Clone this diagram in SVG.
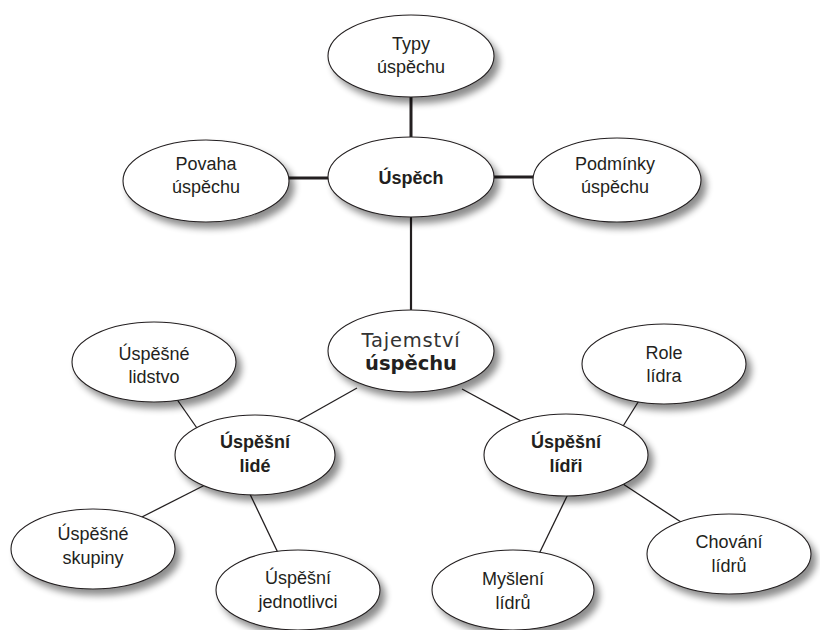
<svg xmlns="http://www.w3.org/2000/svg" width="820" height="630" viewBox="0 0 820 630">
<defs>
<filter id="sh" x="-20%" y="-20%" width="150%" height="160%">
<feGaussianBlur in="SourceAlpha" stdDeviation="3.5"/>
<feOffset dx="5" dy="6" result="b"/>
<feComponentTransfer><feFuncA type="linear" slope="0.45"/></feComponentTransfer>
<feMerge><feMergeNode/><feMergeNode in="SourceGraphic"/></feMerge>
</filter>
</defs>
<style>
.n ellipse{fill:#fff;stroke:#231f20;stroke-width:1.1;filter:url(#sh)}
.n text{font-family:"Liberation Sans",Arial,sans-serif;font-size:18px;fill:#231f20;text-anchor:middle}
.n text.b{font-weight:bold}
.n text.v{font-family:"DejaVu Sans",Verdana,sans-serif;font-size:19.5px;letter-spacing:0.8px;fill:#333}
.n text.vb{font-family:"DejaVu Sans",Verdana,sans-serif;font-size:19.5px;font-weight:bold}
.c line{stroke:#231f20;stroke-width:1.3}
.c line.t{stroke-width:3}
.c line.m{stroke-width:2.2}
</style>
<rect width="820" height="630" fill="#fff"/>
<g class="c">
<line class="t" x1="411" y1="90" x2="411" y2="145"/>
<line class="t" x1="285" y1="178" x2="332" y2="178"/>
<line class="t" x1="490" y1="177" x2="537" y2="177"/>
<line class="m" x1="411" y1="210" x2="411" y2="315"/>
<line x1="357" y1="388" x2="277" y2="433"/>
<line x1="462" y1="389" x2="545" y2="434"/>
<line x1="176" y1="398" x2="199" y2="431"/>
<line x1="640" y1="399" x2="620" y2="431"/>
<line x1="205" y1="485" x2="136" y2="520"/>
<line x1="248" y1="490" x2="280" y2="557"/>
<line x1="570" y1="490" x2="538" y2="556"/>
<line x1="620" y1="482" x2="684" y2="524"/>
</g>
<g id="typy" class="n"><ellipse cx="411" cy="56" rx="83" ry="41"/><text x="411" y="50">Typy</text><text x="411" y="73">úspěchu</text></g>
<g id="uspech" class="n"><ellipse cx="411" cy="177" rx="83" ry="40"/><text class="b" x="411" y="184">Úspěch</text></g>
<g id="povaha" class="n"><ellipse cx="206" cy="181" rx="83" ry="41"/><text x="206" y="170">Povaha</text><text x="206" y="193">úspěchu</text></g>
<g id="podminky" class="n"><ellipse cx="617" cy="180" rx="84" ry="42"/><text x="615" y="170">Podmínky</text><text x="615" y="193">úspěchu</text></g>
<g id="tajemstvi" class="n"><ellipse cx="411" cy="351" rx="83" ry="41"/><text class="v" x="411" y="347">Tajemství</text><text class="vb" x="411" y="370">úspěchu</text></g>
<g id="lidstvo" class="n"><ellipse cx="154" cy="362" rx="82" ry="40"/><text x="154" y="360">Úspěšné</text><text x="154" y="383">lidstvo</text></g>
<g id="role" class="n"><ellipse cx="664" cy="364" rx="82" ry="40"/><text x="664" y="359">Role</text><text x="664" y="382">lídra</text></g>
<g id="lide" class="n"><ellipse cx="255" cy="455" rx="80" ry="40"/><text class="b" x="255" y="448">Úspěšní</text><text class="b" x="255" y="472">lidé</text></g>
<g id="lidri" class="n"><ellipse cx="566" cy="455" rx="82" ry="41"/><text class="b" x="566" y="448">Úspěšní</text><text class="b" x="566" y="472">lídři</text></g>
<g id="skupiny" class="n"><ellipse cx="93" cy="549" rx="82" ry="40"/><text x="93" y="540">Úspěšné</text><text x="93" y="564">skupiny</text></g>
<g id="jednotlivci" class="n"><ellipse cx="298" cy="590" rx="82" ry="40"/><text x="298" y="584">Úspěšní</text><text x="298" y="608">jednotlivci</text></g>
<g id="mysleni" class="n"><ellipse cx="513" cy="590" rx="81" ry="40"/><text x="513" y="585">Myšlení</text><text x="513" y="609">lídrů</text></g>
<g id="chovani" class="n"><ellipse cx="729" cy="554" rx="82" ry="40"/><text x="729" y="548">Chování</text><text x="729" y="572">lídrů</text></g>
</svg>
